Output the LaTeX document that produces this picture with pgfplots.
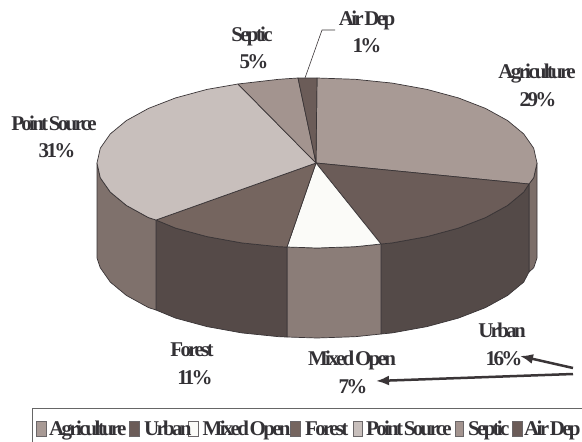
\documentclass[border=0pt]{standalone}
\usepackage{pgfplots}
\pgfplotsset{compat=1.18}
\usetikzlibrary{arrows.meta}
\usepackage{fontspec}
\setmainfont[LetterSpace=-13,WordSpace=0.3]{Liberation Serif}
\definecolor{Edge}{HTML}{3A3537}
\definecolor{Txt}{HTML}{333135}
\definecolor{Agri}{HTML}{A89A95}
\definecolor{Urb}{HTML}{6B5C58}
\definecolor{Mix}{HTML}{FBFBF8}
\definecolor{For}{HTML}{75655F}
\definecolor{Pnt}{HTML}{C8BFBC}
\definecolor{Sep}{HTML}{A3948F}
\definecolor{Air}{HTML}{6B5C58}
\definecolor{SideA}{HTML}{7C6E69}
\definecolor{SideU}{HTML}{544A48}
\definecolor{SideM}{HTML}{8B7D78}
\definecolor{SideF}{HTML}{554A48}
\definecolor{SideP}{HTML}{7F716C}
\tikzset{
  lab/.style={font=\fontsize{21}{24}\bfseries\selectfont, text=Txt, inner sep=0pt, anchor=base},
  legtxt/.style={lab, anchor=base west},
}
\pgfplotsset{
  slice/.style={draw=Edge, line width=0.7pt, line join=round},
  key/.style={draw=Edge!75, line width=0.6pt},
}
\begin{document}
\begin{tikzpicture}
\begin{axis}[
  scale only axis, width=582pt, height=442pt,
  xmin=0, xmax=582, ymin=0, ymax=442, y dir=reverse,
  hide axis, clip=false,
]
% side walls
\addplot[slice, fill=SideA] coordinates {(529,184)(533.7,177.8)(537,163)(537,258)(533.7,267.8)(529,272)(529,184)};
\addplot[slice, fill=SideU] coordinates {(529,184)(523.7,192.1)(507.5,205.5)(485.5,217.6)(458.4,228.1)(427,236.6)(392.2,242.9)(381,244)
  (381,334)(392.2,332.9)(427,326.6)(458.4,318.1)(485.5,307.6)(507.5,295.5)(523.7,282.1)(529,272)(529,184)};
\addplot[slice, fill=SideM] coordinates {(381,244)(355.2,246.7)(317,248)(287,247)(287,337)(317,338)(355.2,336.7)(381,334)(381,244)};
\addplot[slice, fill=SideF] coordinates {(287,247)(278.8,246.7)(241.8,242.9)(207,236.6)(175.6,228.1)(156,220)
  (156,310)(175.6,318.1)(207,326.6)(241.8,332.9)(278.8,336.7)(287,337)(287,247)};
\addplot[slice, fill=SideP] coordinates {(156,220)(148.5,217.6)(126.5,205.5)(110.3,192.1)(100.3,177.8)(97,163)
  (97,258)(100.3,267.8)(110.3,282.1)(126.5,295.5)(148.5,307.6)(156,310)(156,220)};
% top slices
\addplot[slice, fill=Agri] coordinates {(316,163)(317,78)(355.2,79.3)(392.2,83.1)(427,89.4)(458.4,97.9)(485.5,108.4)(507.5,120.5)(523.7,133.9)(533.7,148.2)(537,163)(533.7,177.8)(529,184)(316,163)};
\addplot[slice, fill=Urb] coordinates {(316,163)(529,184)(523.7,192.1)(507.5,205.5)(485.5,217.6)(458.4,228.1)(427,236.6)(392.2,242.9)(381,244)(316,163)};
\addplot[slice, fill=Mix] coordinates {(316,163)(381,244)(355.2,246.7)(317,248)(287,247)(316,163)};
\addplot[slice, fill=For] coordinates {(316,163)(287,247)(278.8,246.7)(241.8,242.9)(207,236.6)(175.6,228.1)(156,220)(316,163)};
\addplot[slice, fill=Pnt] coordinates {(316,163)(156,220)(148.5,217.6)(126.5,205.5)(110.3,192.1)(100.3,177.8)(97,163)(100.3,148.2)(110.3,133.9)(126.5,120.5)(148.5,108.4)(175.6,97.9)(207,89.4)(238,84)(316,163)};
\addplot[slice, fill=Sep] coordinates {(316,163)(238,84)(278.8,79.3)(298,78)(316,163)};
\addplot[slice, fill=Air] coordinates {(316,163)(298,78)(317,78)(316,163)};
% leader and arrows
\addplot[Edge, line width=0.6pt] coordinates {(305,78)(322,30)(335,30)};
\addplot[Edge, line width=2.5pt, -{Latex[length=13pt,width=10pt]}] coordinates {(573,368)(520,356)};
\addplot[Edge, line width=2.5pt, -{Latex[length=13pt,width=10pt]}] coordinates {(573,374)(376,381)};
% labels
\node[lab] at (axis cs:252,41) {Septic};
\node[lab] at (axis cs:254,68) {5\%};
\node[lab] at (axis cs:367,25) {Air Dep};
\node[lab] at (axis cs:367,52) {1\%};
\node[lab] at (axis cs:537,78) {Agriculture};
\node[lab] at (axis cs:538,106) {29\%};
\node[lab] at (axis cs:54,130) {Point Source};
\node[lab] at (axis cs:57,157) {31\%};
\node[lab] at (axis cs:192,356) {Forest};
\node[lab] at (axis cs:195,384) {11\%};
\node[lab] at (axis cs:352,365) {Mixed Open};
\node[lab] at (axis cs:353,393) {7\%};
\node[lab] at (axis cs:502,337) {Urban};
\node[lab] at (axis cs:504,365) {16\%};
% legend box, runs off the page at right and bottom
\addplot[draw=black!60, line width=0.8pt] coordinates {(582,408)(32,408)(32,442)};
\addplot[key, fill=Agri] coordinates {(36,421)(46,421)(46,436)(36,436)(36,421)};
\addplot[key, fill=Urb] coordinates {(129.5,421)(139.5,421)(139.5,436)(129.5,436)(129.5,421)};
\addplot[key, fill=Mix] coordinates {(188.5,421)(198.5,421)(198.5,436)(188.5,436)(188.5,421)};
\addplot[key, fill=For] coordinates {(290,421)(300,421)(300,436)(290,436)(290,421)};
\addplot[key, fill=Pnt] coordinates {(353,421)(362,421)(362,436)(353,436)(353,421)};
\addplot[key, fill=Sep] coordinates {(455,421)(463,421)(463,436)(455,436)(455,421)};
\addplot[key, fill=Air] coordinates {(512,421)(522,421)(522,436)(512,436)(512,421)};
\node[legtxt] at (axis cs:49,435) {Agriculture};
\node[legtxt] at (axis cs:144,435) {Urban};
\node[legtxt] at (axis cs:202.5,435) {Mixed Open};
\node[legtxt] at (axis cs:305,435) {Forest};
\node[legtxt] at (axis cs:366,435) {Point Source};
\node[legtxt] at (axis cs:468,435) {Septic};
\node[legtxt] at (axis cs:524,435) {Air Dep};
\coordinate (bbA) at (axis cs:0,0);
\coordinate (bbB) at (axis cs:582,442);
\end{axis}
% page is exactly the reference frame
\pgfresetboundingbox
\path (bbA) rectangle (bbB);
\end{tikzpicture}
\end{document}
